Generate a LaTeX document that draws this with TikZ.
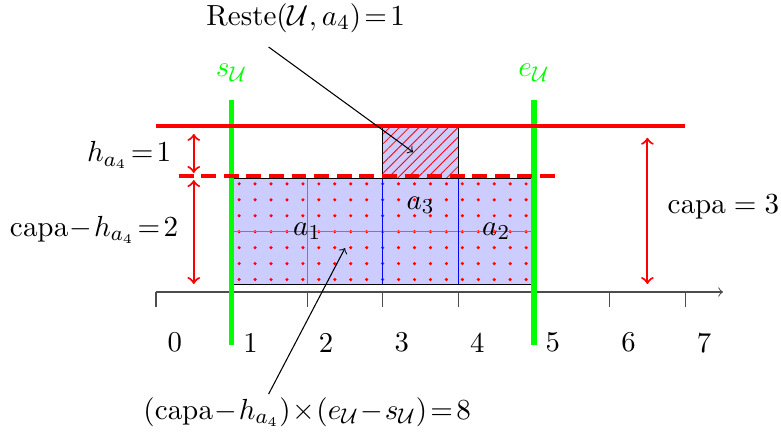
\documentclass[tikz,border=0pt]{standalone}
\usetikzlibrary{patterns.meta,arrows.meta}
\begin{document}
\begin{tikzpicture}[x=1cm,y=1cm,>=to,
  every node/.append style={font=\fontsize{10.8}{13}\selectfont},
  lbl/.style={inner sep=0pt},
  greenline/.style={green,line width=2pt},
  dimarrow/.style={red,thick,<->},
  axisline/.style={gray!60!black},
  note/.style={->,black}]
\useasboundingbox (-2.063,-1.944) rectangle (8.267,3.862);

% main block
\fill[blue!20] (1,0.1) rectangle (5,1.5);
\fill[pattern={Dots[distance=6pt,radius=0.65pt]},pattern color=red] (1,0.1) rectangle (5,1.5);
\draw[gray] (2,0.1) -- (2,1.5);
\draw[gray] (1,0.8) -- (5,0.8);
\draw[blue] (3,0.1) -- (3,1.5) (4,0.1) -- (4,1.5);
\draw (1,0.1) rectangle (5,1.5);

% hatched block
\fill[blue!20] (3,1.5) rectangle (4,2.2);
\fill[pattern={Lines[angle=45,distance=2.6pt,line width=0.3pt]},pattern color=red] (3,1.5) rectangle (4,2.2);
\draw (3,1.5) rectangle (4,2.2);

% axis
\draw[axisline,->] (0,0) -- (7.5,0);
\foreach \i in {0,...,7}{
  \draw[axisline] (\i,0) -- (\i,-0.2);
  \node[lbl] (t\i) at (\i+0.25,-0.67) {\i};
}

% block labels
\node[lbl] (a1) at (2,0.8) {$a_1$};
\node[lbl] (a2) at (4.5,0.8) {$a_2$};
\node[lbl] (a3) at (3.5,1.15) {$a_3$};

% green lines
\draw[greenline] (1,-0.7) -- (1,2.54);
\draw[greenline] (5,-0.7) -- (5,2.54);
\node[lbl,green] (s) at (1,2.9) {$s_{\mathcal{U}}$};
\node[lbl,green] (e) at (5,2.9) {$e_{\mathcal{U}}$};

% red lines
\draw[red,line width=1.6pt] (0,2.2) -- (7,2.2);
\draw[red,line width=1.5pt,dash pattern=on 5.6pt off 2.9pt] (0.3,1.53) -- (5.3,1.53);

% dimension arrows
\draw[dimarrow] (0.5,2.09) -- (0.5,1.574);
\draw[dimarrow] (0.5,1.48) -- (0.5,0.106);
\draw[dimarrow] (6.5,2.04) -- (6.5,0.106);

\node[lbl,anchor=east] (hl) at (0.21,1.81) {$h_{a_4}\!=\!1$};
\node[lbl,anchor=east] (cl) at (0.30,0.82) {$\mathrm{capa}\!-\!h_{a_4}\!=\!2$};
\node[lbl,anchor=west] (cap) at (6.76,1.13) {$\mathrm{capa}=3$};

% annotations
\node[lbl] (reste) at (1.98,3.62) {$\mathrm{Reste}(\mathcal{U},a_4)\!=\!1$};
\node[lbl] (area) at (2.0,-1.59) {$(\mathrm{capa}\!-\!h_{a_4})\!\times\!(e_{\mathcal{U}}\!-\!s_{\mathcal{U}})\!=\!8$};
\coordinate (r1) at (1.49,3.24);
\coordinate (r2) at (3.40,1.85);
\coordinate (b1) at (1.49,-1.35);
\coordinate (b2) at (2.5,0.58);
\draw[note] (r1) -- (r2);
\draw[note] (b1) -- (b2);
\end{tikzpicture}
\end{document}
